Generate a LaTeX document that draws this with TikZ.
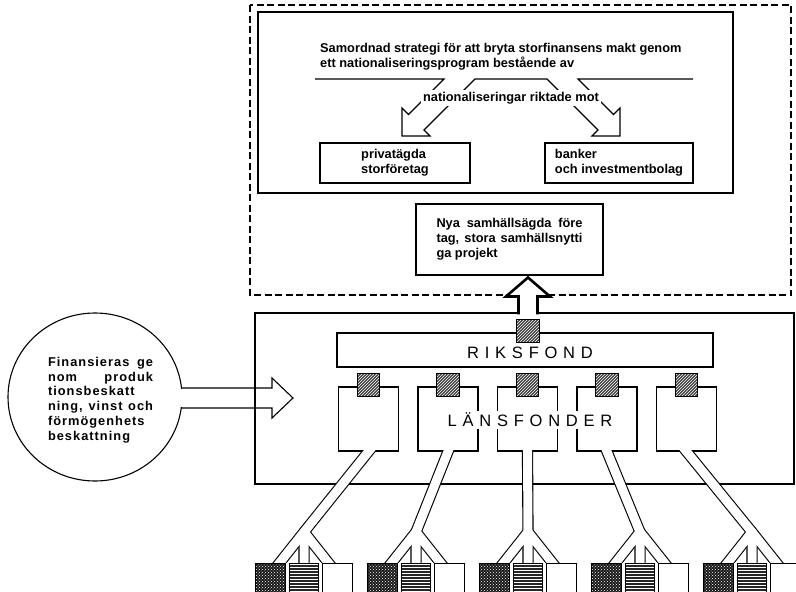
\documentclass[tikz,border=0pt]{standalone}
\usepackage{fontspec}
\setmainfont{Liberation Sans}
\newfontfamily\spacedfont[LetterSpace=35]{Liberation Sans}
\newfontfamily\circfont[LetterSpace=8]{Liberation Sans}
\usetikzlibrary{calc,patterns,shapes.geometric}

\tikzset{
  thin line/.style={line width=1.1pt},
  thick frame/.style={line width=2.6pt},
  small text/.style={font=\bfseries\fontsize{12.8}{15}\selectfont},
  big text/.style={font=\spacedfont\fontsize{16.5}{18}\selectfont},
  circ text/.style={font=\circfont\bfseries\fontsize{12.8}{14.8}\selectfont},
  textbox/.style={draw, thin line, small text, align=left, inner sep=0pt},
  lfbox/.style={draw, thin line, minimum width=60pt, minimum height=64pt, inner sep=0pt},
  hatchsq/.style={draw, line width=1pt, minimum size=22.5pt, inner sep=0pt,
    preaction={fill=black!75}, pattern=north east lines, pattern color=white},
  mottlesq/.style={draw, line width=1.2pt, minimum size=29.5pt, inner sep=0pt,
    preaction={fill=black!90}, pattern=crosshatch dots, pattern color=white},
  linesq/.style={draw, line width=1.2pt, minimum size=29.5pt, inner sep=0pt,
    preaction={fill=black!85}, pattern=horizontal lines, pattern color=white},
  plainsq/.style={draw, line width=1.2pt, minimum size=29.5pt, inner sep=0pt, fill=white},
  pipeout/.style={line width=11.2pt, line join=round},
  pipein/.style={line width=9pt, white, line join=round},
}

\begin{document}
\begin{tikzpicture}[x=1pt,y=-1pt]
    \clip (0,0) rectangle (796,592);
    % Dashed outer frame
    \draw[line width=1.8pt, dash pattern=on 7pt off 3.5pt] (250,5) rectangle (791,295);

    % Strategy box with the split arrow
    \draw[thick frame] (258,12) rectangle (733,193);
    \node[small text, anchor=west, inner sep=0pt] (strat1) at (320,49) {Samordnad strategi för att bryta storfinansens makt genom};
    \node[small text, anchor=west, inner sep=0pt] (strat2) at (320,64) {ett nationaliseringsprogram bestående av};
    \draw[thin line, line join=miter] (315,79) -- (444,79) -- (408.5,114.5) -- (402,108) -- (402,136) -- (430,136)
        -- (424,130) -- (475,79) -- (547,79) -- (598,130) -- (592,136) -- (620,136) -- (620,108)
        -- (613.5,114.5) -- (578,79) -- (693,79);
    \node[small text, fill=white, inner sep=2.5pt] (riktade) at (511,98) {nationaliseringar riktade mot};
    \node[textbox, minimum width=150pt, minimum height=40pt] (priv) at (395,163) {privatägda\\storföretag};
    \node[textbox, minimum width=148pt, minimum height=40pt] (bank) at (619,163) {banker\\och investmentbolag};

    % New companies
    \node[textbox, minimum width=187pt, minimum height=71pt] (nya) at (509.5,239.5)
        {\makebox[146pt][s]{Nya samhällsägda före}\\\makebox[146pt][s]{tag, stora samhällsnytti}\\ga projekt};

    % Fund frame and the arrow up
    \draw[thick frame] (255,313) rectangle (794,484);
    \fill[white] (518.5,316) -- (518.5,296.5) -- (506,296.5) -- (528,277.5) -- (550,296.5) -- (537.5,296.5) -- (537.5,316) -- cycle;
    \draw[thick frame, line join=miter] (518.5,314.3) -- (518.5,296.5) -- (506,296.5) -- (528,277.5)
        -- (550,296.5) -- (537.5,296.5) -- (537.5,314.3);

    % Riksfond
    \node[draw, thin line, minimum width=376pt, minimum height=34pt, inner sep=0pt] (riks) at (525,350) {};
    \node[big text, inner sep=0pt] (rikslabel) at (530,352.5) {RIKSFOND};
    \node[hatchsq] (rsq) at (528,331) {};

    % Länsfonder
    \foreach \i in {0,...,4} {
        \pgfmathsetmacro{\bx}{368.5+79.5*\i}
        \node[lfbox] (lf\i) at (\bx,419) {};
        \node[hatchsq] (lfq\i) at ($(lf\i.north)+(0,-1.5)$) {};
    }
    \node[big text, fill=white, inner sep=2pt] (lans) at (530,420) {LÄNSFONDER};

    % Squares at the bottom
    \foreach \i in {0,...,4} {
        \pgfmathsetmacro{\gx}{304+112*\i}
        \node[mottlesq] (bl\i) at (\gx-33.5,578) {};
        \node[linesq] (bm\i) at (\gx,578) {};
        \node[plainsq] (br\i) at (\gx+33.5,578) {};
        \coordinate (fork\i) at (\gx,532);
    }

    % Pipes from each fund down to its squares
    \begin{scope}
        \clip (0,450.3) rectangle (796,562.6);
        \foreach \s in {pipeout,pipein} {
            \foreach \i in {0,...,4} {
                \draw[\s, shorten <=-6pt, shorten >=-6pt] (lf\i.south) -- (fork\i) -- (bm\i.north);
                \draw[\s, shorten >=-6pt] (fork\i) -- ($(bl\i.north)!0.6!(bl\i.north east)$);
                \draw[\s, shorten >=-6pt] (fork\i) -- ($(br\i.north)!0.6!(br\i.north west)$);
            }
        }
    \end{scope}

    % Financing circle
    \node[draw, thin line, ellipse, minimum width=174pt, minimum height=168pt, inner sep=0pt] (fincirc) at (95,397) {};
    \fill[white] (176,388.7) rectangle (188,407.3);
    \draw[thin line, line join=miter] (181,388) -- (272,388) -- (272,378) -- (293,398) -- (272,418) -- (272,408) -- (181,408);
    \node[circ text, align=left, inner sep=0pt] (fintext) at (100.5,400)
        {\makebox[105pt][s]{Finansieras ge}\\\makebox[105pt][s]{nom produk}\\tionsbeskatt\\\makebox[105pt][s]{ning, vinst och}\\förmögenhets\\beskattning};
\end{tikzpicture}
\end{document}
